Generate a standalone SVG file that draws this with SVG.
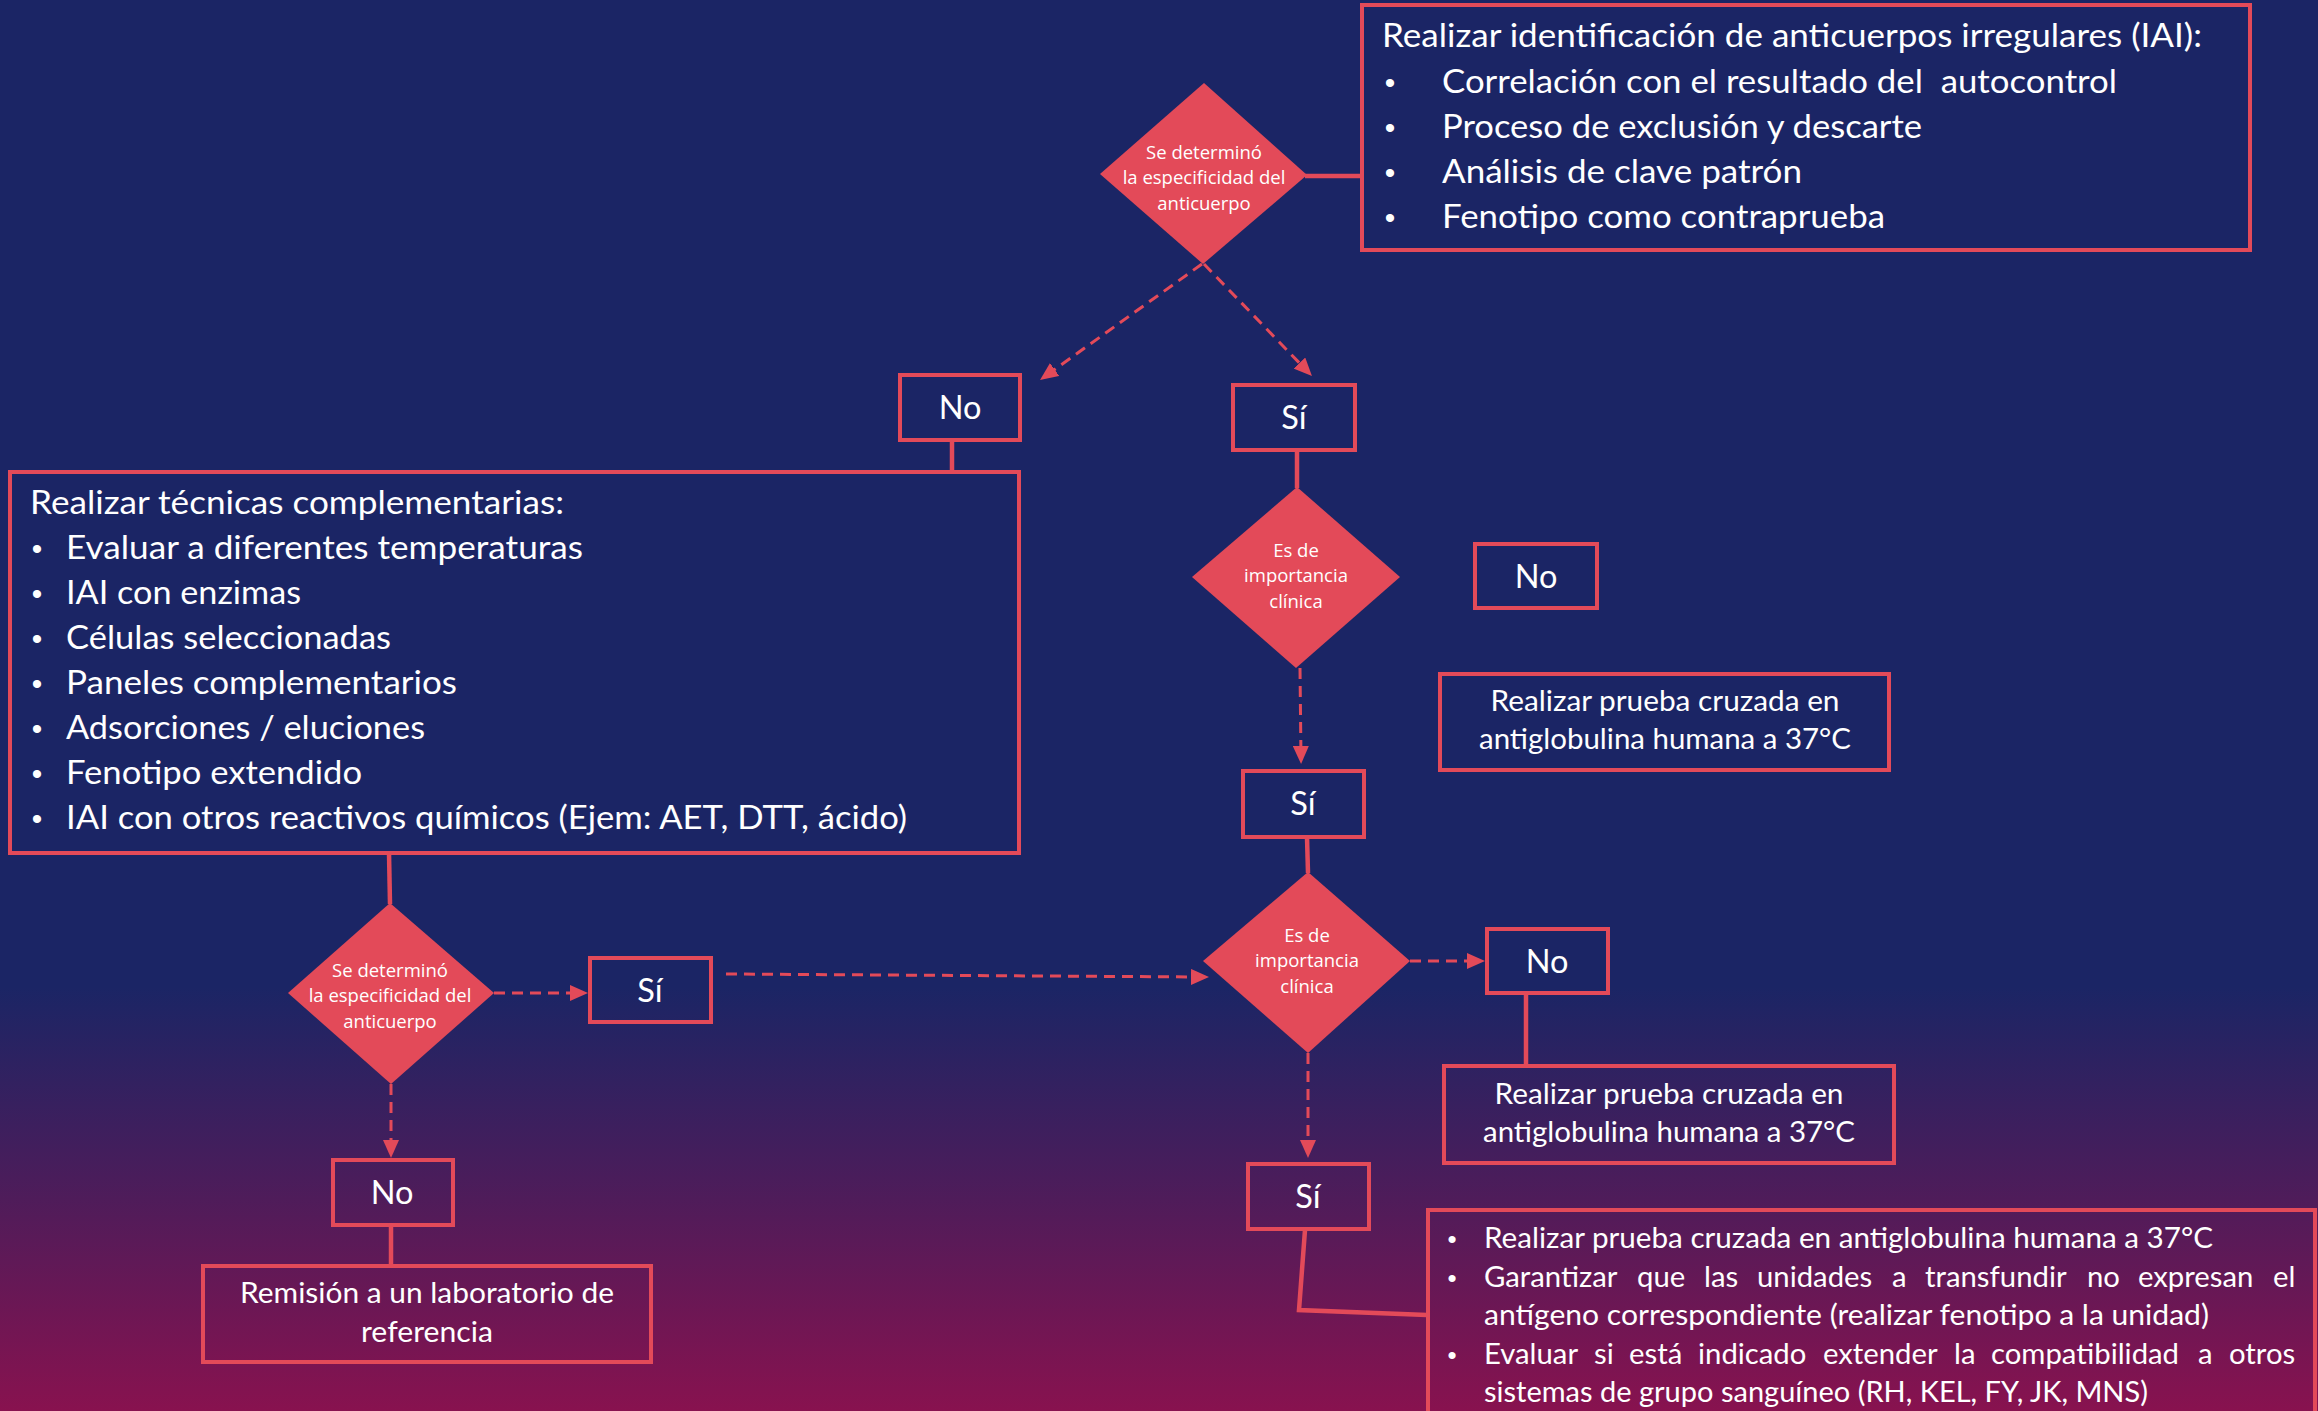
<svg xmlns="http://www.w3.org/2000/svg" width="2318" height="1411" viewBox="0 0 2318 1411">
  <defs>
    <linearGradient id="bg" gradientUnits="userSpaceOnUse" x1="0" y1="0" x2="0" y2="1411">
      <stop offset="0" stop-color="#1b2565"/>
      <stop offset="0.70" stop-color="#1b2565"/>
      <stop offset="0.85" stop-color="#4f1c5a"/>
      <stop offset="1" stop-color="#88124f"/>
    </linearGradient>
    <marker id="ah" markerUnits="userSpaceOnUse" markerWidth="18" markerHeight="16" refX="12" refY="8" orient="auto">
      <path d="M0,0 L18,8 L0,16 z" fill="#e34a59"/>
    </marker>
    <style>
      .box { fill: none; stroke: #e34a59; stroke-width: 4; }
      .dia { fill: #e34a59; stroke: none; }
      .solid { fill: none; stroke: #e34a59; stroke-width: 4.5; }
      .dash { fill: none; stroke: #e34a59; stroke-width: 3; stroke-dasharray: 11 7; marker-end: url(#ah); }
      .t { fill: #ffffff; font-family: Lato, "Open Sans", "Liberation Sans", sans-serif; }
      .big { font-size: 33.5px; }
      .mid { font-size: 28.5px; }
      .just { font-size: 29.3px; }
      .yn { font-size: 32.5px; text-anchor: middle; }
      .dt { fill: #ffffff; font-family: "Open Sans", "Noto Sans", sans-serif; font-size: 18.5px; text-anchor: middle; }
      .bul { fill: #ffffff; font-family: "Liberation Sans", Arial, sans-serif; text-anchor: middle; }
      .c { text-anchor: middle; }
    </style>
  </defs>

  <rect x="0" y="0" width="2318" height="1411" fill="url(#bg)"/>

  <g id="connectors">
    <line class="solid" x1="1305" y1="176" x2="1362" y2="176"/>
    <line class="solid" x1="952" y1="440" x2="952" y2="472"/>
    <line class="solid" x1="1297" y1="450" x2="1297" y2="488"/>
    <line class="solid" x1="1307" y1="837" x2="1308" y2="873"/>
    <line class="solid" x1="389" y1="853" x2="390" y2="904"/>
    <line class="solid" x1="391" y1="1226" x2="391" y2="1265"/>
    <line class="solid" x1="1526" y1="993" x2="1526" y2="1065"/>
    <polyline class="solid" points="1305,1230 1299,1310 1427,1315"/>

    <line class="dash" x1="1202" y1="264" x2="1044.9" y2="376.5"/>
    <line class="dash" x1="1204" y1="264" x2="1307.8" y2="371.7"/>
    <line class="dash" x1="1300" y1="668" x2="1301" y2="758"/>
    <line class="dash" x1="1308" y1="1053" x2="1308" y2="1152"/>
    <line class="dash" x1="1410" y1="961" x2="1479" y2="961"/>
    <line class="dash" x1="494" y1="993" x2="582" y2="993"/>
    <line class="dash" x1="726" y1="974" x2="1203" y2="977"/>
    <line class="dash" x1="391" y1="1084" x2="391" y2="1152"/>
  </g>

  <g id="box-iai">
    <rect class="box" x="1362" y="5" width="888" height="245"/>
    <text class="t big" x="1382" y="47" textLength="820" lengthAdjust="spacingAndGlyphs">Realizar identificación de anticuerpos irregulares (IAI):</text>
    <text class="bul" font-size="30" x="1390" y="93">•</text>
    <text class="bul" font-size="30" x="1390" y="138">•</text>
    <text class="bul" font-size="30" x="1390" y="183">•</text>
    <text class="bul" font-size="30" x="1390" y="228">•</text>
    <text class="t big" x="1442" y="93" textLength="675" lengthAdjust="spacingAndGlyphs" xml:space="preserve">Correlación con el resultado del  autocontrol</text>
    <text class="t big" x="1442" y="138" textLength="480" lengthAdjust="spacingAndGlyphs">Proceso de exclusión y descarte</text>
    <text class="t big" x="1442" y="183" textLength="360" lengthAdjust="spacingAndGlyphs">Análisis de clave patrón</text>
    <text class="t big" x="1442" y="228" textLength="443" lengthAdjust="spacingAndGlyphs">Fenotipo como contraprueba</text>
  </g>

  <g id="dec-especificidad-1">
    <polygon class="dia" points="1204,83 1307,175 1203,264 1100,174"/>
    <text class="dt" x="1204" y="159">Se determinó</text>
    <text class="dt" x="1204" y="184">la especificidad del</text>
    <text class="dt" x="1204" y="210">anticuerpo</text>
  </g>

  <g id="no-1">
    <rect class="box" x="900" y="375" width="120" height="65"/>
    <text class="t yn" x="960" y="419">No</text>
  </g>

  <g id="si-1">
    <rect class="box" x="1233" y="385" width="122" height="65"/>
    <text class="t yn" x="1294" y="429">Sí</text>
  </g>

  <g id="box-tecnicas">
    <rect class="box" x="10" y="472" width="1009" height="381"/>
    <text class="t big" x="30" y="514" textLength="534" lengthAdjust="spacingAndGlyphs">Realizar técnicas complementarias:</text>
    <text class="bul" font-size="30" x="37" y="559">•</text>
    <text class="bul" font-size="30" x="37" y="604">•</text>
    <text class="bul" font-size="30" x="37" y="649">•</text>
    <text class="bul" font-size="30" x="37" y="694">•</text>
    <text class="bul" font-size="30" x="37" y="739">•</text>
    <text class="bul" font-size="30" x="37" y="784">•</text>
    <text class="bul" font-size="30" x="37" y="829">•</text>
    <text class="t big" x="66" y="559" textLength="517" lengthAdjust="spacingAndGlyphs">Evaluar a diferentes temperaturas</text>
    <text class="t big" x="66" y="604" textLength="235" lengthAdjust="spacingAndGlyphs">IAI con enzimas</text>
    <text class="t big" x="66" y="649" textLength="325" lengthAdjust="spacingAndGlyphs">Células seleccionadas</text>
    <text class="t big" x="66" y="694" textLength="391" lengthAdjust="spacingAndGlyphs">Paneles complementarios</text>
    <text class="t big" x="66" y="739" textLength="359" lengthAdjust="spacingAndGlyphs">Adsorciones / eluciones</text>
    <text class="t big" x="66" y="784" textLength="296" lengthAdjust="spacingAndGlyphs">Fenotipo extendido</text>
    <text class="t big" x="66" y="829" textLength="841" lengthAdjust="spacingAndGlyphs">IAI con otros reactivos químicos (Ejem: AET, DTT, ácido)</text>
  </g>

  <g id="dec-importancia-1">
    <polygon class="dia" points="1297,487 1400,577 1296,668 1192,577"/>
    <text class="dt" x="1296" y="557">Es de</text>
    <text class="dt" x="1296" y="582">importancia</text>
    <text class="dt" x="1296" y="608">clínica</text>
  </g>

  <g id="no-2">
    <rect class="box" x="1475" y="544" width="122" height="64"/>
    <text class="t yn" x="1536" y="588">No</text>
  </g>

  <g id="box-prueba-1">
    <rect class="box" x="1440" y="674" width="449" height="96"/>
    <text class="t mid c" x="1665" y="711" textLength="349" lengthAdjust="spacingAndGlyphs">Realizar prueba cruzada en</text>
    <text class="t mid c" x="1665" y="749" textLength="372" lengthAdjust="spacingAndGlyphs">antiglobulina humana a 37°C</text>
  </g>

  <g id="si-2">
    <rect class="box" x="1243" y="771" width="121" height="66"/>
    <text class="t yn" x="1303" y="815">Sí</text>
  </g>

  <g id="dec-importancia-2">
    <polygon class="dia" points="1308,872 1410,961 1308,1053 1203,961"/>
    <text class="dt" x="1307" y="942">Es de</text>
    <text class="dt" x="1307" y="967">importancia</text>
    <text class="dt" x="1307" y="993">clínica</text>
  </g>

  <g id="no-3">
    <rect class="box" x="1487" y="929" width="121" height="64"/>
    <text class="t yn" x="1547" y="973">No</text>
  </g>

  <g id="box-prueba-2">
    <rect class="box" x="1444" y="1066" width="450" height="97"/>
    <text class="t mid c" x="1669" y="1104" textLength="349" lengthAdjust="spacingAndGlyphs">Realizar prueba cruzada en</text>
    <text class="t mid c" x="1669" y="1142" textLength="372" lengthAdjust="spacingAndGlyphs">antiglobulina humana a 37°C</text>
  </g>

  <g id="si-3">
    <rect class="box" x="1248" y="1164" width="121" height="65"/>
    <text class="t yn" x="1308" y="1208">Sí</text>
  </g>

  <g id="box-garantizar">
    <rect class="box" x="1428" y="1210" width="887" height="230"/>
    <text class="bul" font-size="26" x="1452" y="1248">•</text>
    <text class="bul" font-size="26" x="1452" y="1287">•</text>
    <text class="bul" font-size="26" x="1452" y="1364">•</text>
    <text class="t mid" x="1484" y="1248" textLength="729" lengthAdjust="spacingAndGlyphs">Realizar prueba cruzada en antiglobulina humana a 37°C</text>
    <text class="t just" y="1287"><tspan x="1484">Garantizar</tspan><tspan x="1637">que</tspan><tspan x="1704">las</tspan><tspan x="1757">unidades</tspan><tspan x="1892">a</tspan><tspan x="1925">transfundir</tspan><tspan x="2087">no</tspan><tspan x="2138">expresan</tspan><tspan x="2273">el</tspan></text>
    <text class="t mid" x="1484" y="1325" textLength="725" lengthAdjust="spacingAndGlyphs">antígeno correspondiente (realizar fenotipo a la unidad)</text>
    <text class="t just" y="1364"><tspan x="1484">Evaluar</tspan><tspan x="1594">si</tspan><tspan x="1629">está</tspan><tspan x="1698">indicado</tspan><tspan x="1823">extender</tspan><tspan x="1954">la</tspan><tspan x="1991">compatibilidad</tspan><tspan x="2198">a</tspan><tspan x="2229">otros</tspan></text>
    <text class="t mid" x="1484" y="1402" textLength="664" lengthAdjust="spacingAndGlyphs">sistemas de grupo sanguíneo (RH, KEL, FY, JK, MNS)</text>
  </g>

  <g id="dec-especificidad-2">
    <polygon class="dia" points="390,903 494,993 391,1084 288,993"/>
    <text class="dt" x="390" y="977">Se determinó</text>
    <text class="dt" x="390" y="1002">la especificidad del</text>
    <text class="dt" x="390" y="1028">anticuerpo</text>
  </g>

  <g id="si-4">
    <rect class="box" x="590" y="958" width="121" height="64"/>
    <text class="t yn" x="650" y="1002">Sí</text>
  </g>

  <g id="no-4">
    <rect class="box" x="333" y="1160" width="120" height="65"/>
    <text class="t yn" x="392" y="1204">No</text>
  </g>

  <g id="box-remision">
    <rect class="box" x="203" y="1266" width="448" height="96"/>
    <text class="t mid c" x="427" y="1303" textLength="374" lengthAdjust="spacingAndGlyphs">Remisión a un laboratorio de</text>
    <text class="t mid c" x="427" y="1342" textLength="132" lengthAdjust="spacingAndGlyphs">referencia</text>
  </g>
</svg>
